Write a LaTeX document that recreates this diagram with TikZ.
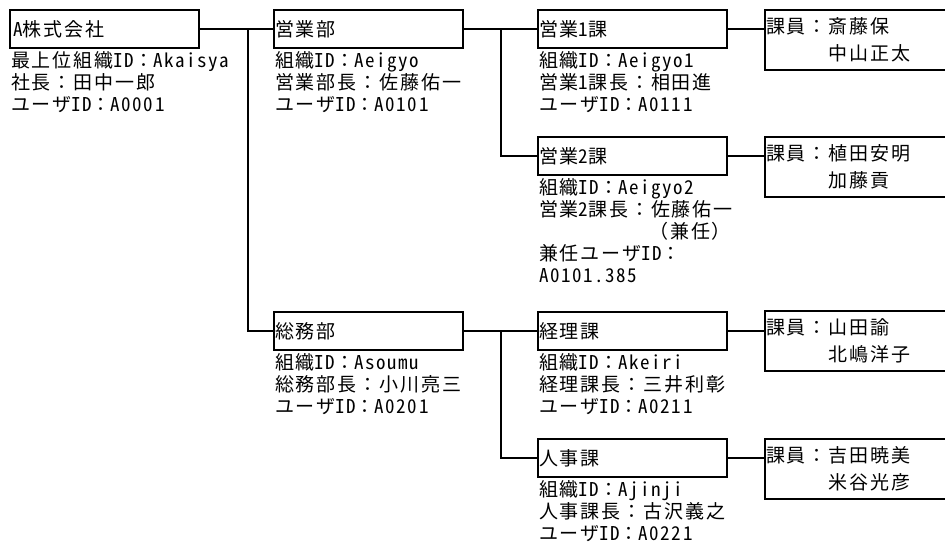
\documentclass[tikz,border=0pt]{standalone}
\usepackage{fontspec}
\setmainfont[LetterSpace=10]{Noto Sans CJK JP}
\newfontfamily\hwfont[CharacterWidth=Half,LetterSpace=8]{Noto Sans CJK JP}
\newcommand{\hw}[1]{{\hwfont #1}}
\tikzset{
  ln/.style={line width=1.2pt},
  orgbox/.style={draw, line width=1.2pt, rectangle, anchor=north west,
    minimum width=189pt, minimum height=38pt, inner xsep=1pt, inner ysep=0pt,
    outer sep=0pt, text width=187pt, align=left, text height=16pt, text depth=1.6pt,
    font=\fontsize{19}{22}\selectfont},
  membox/.style={draw, line width=1.2pt, rectangle, anchor=north west,
    minimum width=181pt, minimum height=60pt, inner sep=0pt, outer sep=0pt},
  lbl/.style={anchor=base west, inner sep=0pt, outer sep=0pt,
    font=\fontsize{19}{22}\selectfont},
}
\begin{document}
\begin{tikzpicture}[x=1pt,y=-1pt]
\useasboundingbox (0,0) rectangle (945,547);
\clip (0,0) rectangle (945,547);
% boxes
\node[orgbox] (co)  at (10,10)   {\hspace*{2pt}\hw{A}株式会社};
\node[orgbox] (eig) at (274,10)  {営業部};
\node[orgbox] (e1)  at (538,10)  {営業\hw{1}課};
\node[orgbox] (e2)  at (538,137) {営業\hw{2}課};
\node[orgbox] (som) at (274,312) {総務部};
\node[orgbox] (kei) at (538,312) {経理課};
\node[orgbox] (jin) at (538,439) {人事課};
\node[membox] (m1) at (765,10)  {};
\node[membox] (m2) at (765,137) {};
\node[membox] (m3) at (765,311) {};
\node[membox] (m4) at (765,439) {};
% labels under boxes
\node[lbl] (coL) at ([xshift=1pt,yshift=-19pt]co.south west)
  {\parbox[t]{230pt}{最上位組織\hw{ID}：\hw{Akaisya}\\社長：田中一郎\\ユーザ\hw{ID}：\hw{A0001}}};
\node[lbl] (eigL) at ([xshift=1pt,yshift=-19pt]eig.south west)
  {\parbox[t]{220pt}{組織\hw{ID}：\hw{Aeigyo}\\営業部長：佐藤佑一\\ユーザ\hw{ID}：\hw{A0101}}};
\node[lbl] (e1L) at ([xshift=1pt,yshift=-19pt]e1.south west)
  {\parbox[t]{220pt}{組織\hw{ID}：\hw{Aeigyo1}\\営業\hw{1}課長：相田進\\ユーザ\hw{ID}：\hw{A0111}}};
\node[lbl] (e2L) at ([xshift=1pt,yshift=-19pt]e2.south west)
  {\parbox[t]{220pt}{組織\hw{ID}：\hw{Aeigyo2}\\営業\hw{2}課長：佐藤佑一\\\phantom{営業\hw{2}課長：}（兼任）\\兼任ユーザ\hw{ID}：\\\hw{A0101.385}}};
\node[lbl] (somL) at ([xshift=1pt,yshift=-19pt]som.south west)
  {\parbox[t]{220pt}{組織\hw{ID}：\hw{Asoumu}\\総務部長：小川亮三\\ユーザ\hw{ID}：\hw{A0201}}};
\node[lbl] (keiL) at ([xshift=1pt,yshift=-19pt]kei.south west)
  {\parbox[t]{220pt}{組織\hw{ID}：\hw{Akeiri}\\経理課長：三井利彰\\ユーザ\hw{ID}：\hw{A0211}}};
\node[lbl] (jinL) at ([xshift=1pt,yshift=-19pt]jin.south west)
  {\parbox[t]{220pt}{組織\hw{ID}：\hw{Ajinji}\\人事課長：古沢義之\\ユーザ\hw{ID}：\hw{A0221}}};
% member texts
\node[lbl] (m1t) at ([xshift=1pt,yshift=-23pt]m1.north west)
  {\parbox[t]{175pt}{\baselineskip=27pt 課員：斎藤保\\　　　中山正太}};
\node[lbl] (m2t) at ([xshift=1pt,yshift=-23pt]m2.north west)
  {\parbox[t]{175pt}{\baselineskip=27pt 課員：植田安明\\　　　加藤貢}};
\node[lbl] (m3t) at ([xshift=1pt,yshift=-23pt]m3.north west)
  {\parbox[t]{175pt}{\baselineskip=27pt 課員：山田諭\\　　　北嶋洋子}};
\node[lbl] (m4t) at ([xshift=1pt,yshift=-23pt]m4.north west)
  {\parbox[t]{175pt}{\baselineskip=27pt 課員：吉田暁美\\　　　米谷光彦}};
% trunk points
\coordinate (t1) at (248,29);
\coordinate (t2) at (501,29);
\coordinate (t3) at (501,331);
% connectors
\draw[ln] (co.east) -- (eig.west);
\draw[ln] (t1) |- (som.west);
\draw[ln] (eig.east) -- (e1.west);
\draw[ln] (t2) |- (e2.west);
\draw[ln] (som.east) -- (kei.west);
\draw[ln] (t3) |- (jin.west);
\draw[ln] (e1.east) -- (e1.east -| m1.west);
\draw[ln] (e2.east) -- (e2.east -| m2.west);
\draw[ln] (kei.east) -- (kei.east -| m3.west);
\draw[ln] (jin.east) -- (jin.east -| m4.west);
\end{tikzpicture}
\end{document}
